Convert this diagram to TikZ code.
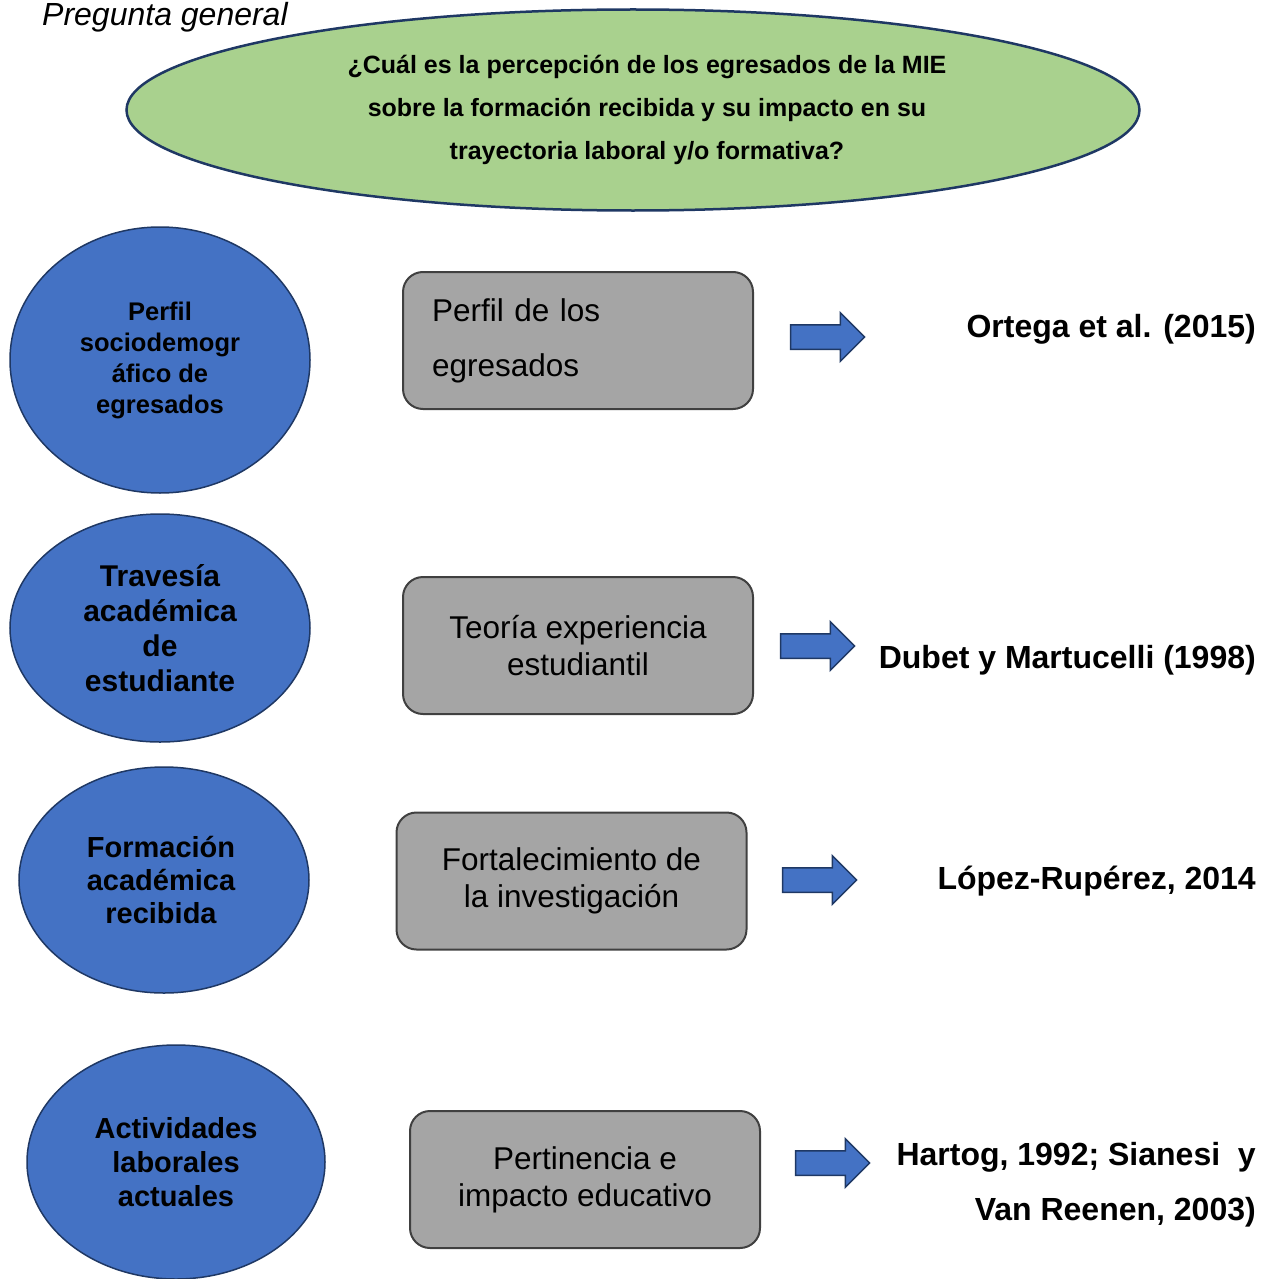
\documentclass[tikz,border=0pt]{standalone}
\usepackage{fontspec}
\setmainfont{Liberation Sans}
\usetikzlibrary{shapes.geometric,shapes.arrows}
\definecolor{verdeell}{HTML}{A9D18E}
\definecolor{azulcirc}{HTML}{4472C4}
\definecolor{azulborde}{HTML}{1F3864}
\definecolor{grisbox}{HTML}{A5A5A5}
\definecolor{grisborde}{HTML}{404040}

\begin{document}
\begin{tikzpicture}[x=1pt, y=-1pt,
		circulo/.style={ellipse, draw=azulborde, line width=1.5pt, fill=azulcirc, inner sep=0pt, align=center},
		caja/.style={rectangle, rounded corners=20pt, draw=grisborde, line width=2pt, fill=grisbox, minimum width=350pt, minimum height=137pt, inner sep=0pt, align=center, font=\fontsize{31.5}{37}\selectfont},
		flecha/.style={single arrow, draw=azulborde, line width=1.5pt, fill=azulcirc, minimum height=74pt, inner xsep=0pt, inner ysep=11.5pt, single arrow head extend=12pt},
		autor/.style={anchor=east, align=right, inner sep=0pt, font=\fontsize{32}{55}\selectfont\bfseries}]
		%%%%% START %%%%%
		
		\useasboundingbox (0, 0) rectangle (1270, 1279);
		
		\node[anchor=base west, inner sep=0pt, font=\fontsize{32}{38}\selectfont\itshape] (titulo) at (42, 26) {Pregunta general};
		
		\node[ellipse, draw=azulborde, line width=2.5pt, fill=verdeell, minimum width=1013pt, minimum height=201pt] (pregunta) at (633, 110) {};
		\node[align=center, font=\fontsize{25}{43}\selectfont\bfseries] (preguntatxt) at (647, 110) {¿Cuál es la percepción de los egresados de la MIE\\sobre la formación recibida y su impacto en su\\trayectoria laboral y/o formativa?};
		
		\node[circulo, minimum width=300pt, minimum height=266pt, font=\fontsize{25.5}{31}\selectfont\bfseries] (perfil) at (160, 360) {Perfil\\sociodemogr\\áfico de\\egresados};
		\node[circulo, minimum width=300pt, minimum height=228pt, font=\fontsize{30}{35}\selectfont\bfseries] (travesia) at (160, 628) {Travesía\\académica\\de\\estudiante};
		\node[circulo, minimum width=290pt, minimum height=226pt, font=\fontsize{29}{33}\selectfont\bfseries] (formacion) at (164, 880) {};
		\node[align=center, font=\fontsize{29}{33}\selectfont\bfseries] (formaciontxt) at (161, 880) {Formación\\académica\\recibida};
		\node[circulo, minimum width=298pt, minimum height=234pt, font=\fontsize{29}{34}\selectfont\bfseries] (actividades) at (176, 1162) {Actividades\\laborales\\actuales};
		
		\node[caja, align=left, text width=292pt, font=\fontsize{31.5}{55}\selectfont] (caja1) at (578, 340.5) {Perfil de los\\egresados};
		\node[caja] (caja2) at (578, 645.5) {Teoría experiencia\\estudiantil};
		\node[caja] (caja3) at (571.5, 881) {Fortalecimiento de\\la investigación};
		\node[caja] (caja4) at (585, 1179.5) {Pertinencia e\\impacto educativo};
		
		\node[flecha] (flecha1) at (821.5, 337) {};
		\node[flecha] (flecha2) at (811.5, 646) {};
		\node[flecha] (flecha3) at (813.5, 880) {};
		\node[flecha] (flecha4) at (826.5, 1163) {};
		
		\node[autor] (ortega) at (1256, 329) {Ortega et al. (2015)};
		\node[autor] (dubet) at (1256, 660) {Dubet y Martucelli (1998)};
		\node[autor] (lopez) at (1256, 881) {López-Rupérez, 2014};
		\node[autor] (hartog) at (1256, 1184.5) {Hartog, 1992; Sianesi\ \ y\\Van Reenen, 2003)};
		
		%%%%% END %%%%%
	\end{tikzpicture}
\end{document}
